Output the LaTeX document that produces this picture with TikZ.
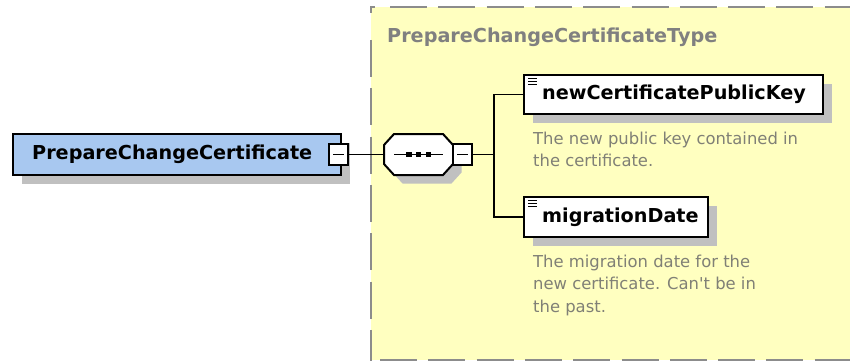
\documentclass[tikz,border=0pt]{standalone}
\usepackage{fontspec}
\setmainfont{DejaVu Sans}
\usetikzlibrary{shadows,positioning,calc}

\definecolor{typeyellow}{RGB}{255,255,192}
\definecolor{rootblue}{RGB}{168,200,240}
\definecolor{shadowgray}{RGB}{192,192,192}
\definecolor{dashgray}{RGB}{140,140,140}
\definecolor{titlegray}{RGB}{128,128,128}
\definecolor{docgray}{RGB}{128,128,118}

\tikzset{
  boxshadow/.style={drop shadow={shadow xshift=8.5pt, shadow yshift=-8.5pt, fill=shadowgray, opacity=1}},
  rootbox/.style={draw=black, line width=2pt, fill=rootblue, inner sep=0pt, minimum height=41pt, anchor=west, boxshadow},
  elembox/.style={draw=black, line width=2pt, fill=white, inner sep=0pt, minimum height=39pt, anchor=west, boxshadow,
    path picture={
      \foreach \dy in {3,6,9}
        \draw[line width=1pt] ([xshift=4pt,yshift=-\dy pt]path picture bounding box.north west) -- ++(9,0);
    }},
  seqarea/.style={inner sep=0pt, minimum width=69pt, minimum height=41pt},
  octagon/.style={insert path={(394,134) -- (443,134) -- (453,145) -- (453,164) -- (443,175) -- (394,175) -- (384,164) -- (384,145) -- cycle}},
  minusbox/.style={draw=black, line width=1.5pt, fill=white, minimum width=19pt, minimum height=21pt, inner sep=0pt,
    path picture={\draw[line width=1.5pt] ([xshift=4pt]path picture bounding box.west) -- ([xshift=-4pt]path picture bounding box.east);}},
  labeltext/.style={font=\bfseries\fontsize{19.2}{23}\selectfont, inner sep=0pt, anchor=west},
  titletext/.style={font=\bfseries\fontsize{19.2}{23}\selectfont, text=titlegray, inner sep=0pt, anchor=west},
  doctext/.style={font=\fontsize{16.4}{22.5}\selectfont, text=docgray, align=left, inner sep=0pt, anchor=north west},
  typeborder/.style={draw=dashgray, line width=1.8pt, dash pattern=on 37pt off 11.3pt},
  conn/.style={line width=1.5pt}
}

\begin{document}
\begin{tikzpicture}[x=1pt, y=-1pt]
  \useasboundingbox (0,0) rectangle (850,361);
  \clip (0,0) rectangle (850,361);

  % complex type area
  \fill[typeyellow] (371,7) rectangle (860,360);
  \draw[typeborder] (390,7) -- (860,7);
  \draw[typeborder] (371,40) -- (371,361);
  \draw[typeborder] (380,360) -- (860,360);
  \draw[draw=dashgray, line width=1.8pt] (371,13) -- (371,7) -- (375,7);
  \node[titletext] (typetitle) at (387,37) {PrepareChangeCertificateType};

  % root element
  \node[rootbox, minimum width=328pt] (root) at (12,154.5) {};
  \node[labeltext] (rootlabel) at ([xshift=20pt]root.west) {PrepareChangeCertificate};
  \node[minusbox] (rootminus) at (338.5,154.5) {};

  % sequence compositor
  \fill[shadowgray, shift={(8.5,8.5)}] [octagon];
  \draw[line width=2pt, fill=white] [octagon];
  \node[seqarea] (seq) at (418.5,154.5) {};
  \draw[conn] ([xshift=-24.5pt]seq.center) -- ([xshift=24.5pt]seq.center);
  \foreach \dx in {-9.5,0,10}
    \fill ([xshift=\dx pt]seq.center) +(-2.75,-2.75) rectangle +(2.75,2.75);
  \node[minusbox] (seqminus) at (462.5,154.5) {};

  % child elements
  \node[elembox, minimum width=299pt] (newkey) at (523,94.5) {};
  \node[labeltext] (newkeylabel) at ([xshift=19pt]newkey.west) {newCertificatePublicKey};
  \node[doctext] (newkeydoc) at (533,131.5) {The new public key contained in\\the certificate.};

  \node[elembox, minimum width=184pt, minimum height=40pt] (migdate) at (523,217) {};
  \node[labeltext] (migdatelabel) at ([xshift=19pt]migdate.west) {migrationDate};
  \node[doctext] (migdatedoc) at (533,254.5) {The migration date for the\\new certificate. Can\textquotesingle t be in\\the past.};

  % connectors
  \coordinate (fork) at ($(seqminus.east)+(21,0)$);
  \draw[conn] (rootminus.east) -- (seq.west);
  \draw[conn] (seqminus.east) -- (fork);
  \draw[conn] (newkey.west) -| (fork) |- (migdate.west);
\end{tikzpicture}
\end{document}
